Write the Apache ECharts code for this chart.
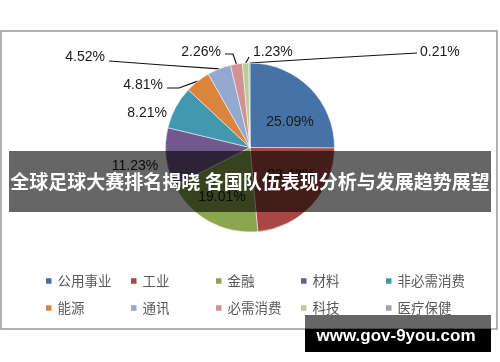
<!DOCTYPE html>
<html><head><meta charset="utf-8">
<script src="https://cdn.jsdelivr.net/npm/echarts@6/dist/echarts.min.js"></script>
<style>html,body{margin:0;padding:0;background:#fff}#c{width:500px;height:362px}</style>
</head><body><div id="c"></div>
<script>
// ---- data ----
const categories = ['公用事业','工业','金融','材料','非必需消费','能源','通讯','必需消费','科技','医疗保健'];
const shares = [25.09, 23.42, 19.01, 11.23, 8.21, 4.81, 4.52, 2.26, 1.23, 0.21];
const titleText = '全球足球大赛排名揭晓 各国队伍表现分析与发展趋势展望';
const watermarkText = 'www.gov-9you.com';

// ---- styling / layout (not data) ----
const colors = ['#4572A7','#AA4643','#89A54E','#71588F','#4198AF','#DB843D','#93A9CF','#D19392','#B9CD96','#A99BBD'];
const labelSpots = [
  {x:290, y:122, align:'center'},
  {x:291, y:175, align:'center'},
  {x:222, y:197, align:'center'},
  {x:135, y:166, align:'center'},
  {x:167, y:113, align:'right'},
  {x:163, y:85,  align:'right', line:[[179,88],[167,88]]},
  {x:105, y:57,  align:'right', line:[[163,65],[109,61]]},
  {x:221, y:52,  align:'right', line:[[233,54],[225,54]]},
  {x:253, y:52,  align:'left',  line:[[248,59],[249,57]]},
  {x:420, y:52,  align:'left',  line:[[330,58],[417,53]]}
];

const chart = echarts.init(document.getElementById('c'), null, {renderer:'canvas'});
const pieData = categories.map((n, i) => ({
  name: n,
  value: shares[i],
  label: { position: i < 3 ? 'inside' : 'outside' },
  labelLine: { show: !!labelSpots[i].line }
}));

chart.setOption({
  animation: false,
  color: colors,
  legend: {
    data: categories,
    left: 44, top: 272.5, width: 430, padding: 0,
    orient: 'horizontal',
    icon: 'rect', itemWidth: 7.5, itemHeight: 7.5, itemGap: 10,
    selectedMode: false,
    textStyle: { fontSize: 13.5, color: '#595959', fontFamily: 'Noto Sans CJK SC', width: 61.5, lineHeight: 17 }
  },
  series: [{
    type: 'pie',
    center: [250, 147.5],
    radius: 84.5,
    startAngle: 90,
    clockwise: true,
    data: pieData,
    itemStyle: { borderColor: '#ffffff', borderWidth: 0.5 },
    label: {
      formatter: '{c}%',
      fontSize: 14,
      color: '#1a1a1a',
      fontFamily: 'Liberation Sans, Arial, sans-serif'
    },
    labelLine: { lineStyle: { color: '#111', width: 1.2 }, length: 10, length2: 10 },
    labelLayout: function (p) {
      const s = labelSpots[p.dataIndex];
      const r = { x: s.x, y: s.y, align: s.align, verticalAlign: 'middle' };
      if (s.line && p.labelLinePoints) {
        r.labelLinePoints = [p.labelLinePoints[0]].concat(s.line);
      }
      return r;
    },
    emphasis: { disabled: true }
  }],
  graphic: [
    { type: 'rect', z: 100, shape: { x: 1, y: 31, width: 496, height: 298 },
      style: { fill: 'none', stroke: '#9a9a9a', lineWidth: 1.5 } },
    { type: 'rect', z: 101, shape: { x: 9, y: 151, width: 482, height: 61 },
      style: { fill: 'rgba(0,0,0,0.6)' } },
    { type: 'text', z: 102, x: 250, y: 182,
      style: { text: titleText, fill: '#fff', font: 'bold 19px "Noto Sans CJK SC"', align: 'center', verticalAlign: 'middle' } },
    { type: 'rect', z: 101, shape: { x: 305, y: 315, width: 186, height: 14 },
      style: { fill: 'rgba(0,0,0,0.6)' } },
    { type: 'rect', z: 101, shape: { x: 305, y: 329, width: 186, height: 23 },
      style: { fill: '#000' } },
    { type: 'text', z: 102, x: 396, y: 336,
      style: { text: watermarkText, fill: '#fff', font: 'bold 17px "Liberation Sans", Arial, sans-serif', align: 'center', verticalAlign: 'middle' } }
  ]
});
</script></body></html>
